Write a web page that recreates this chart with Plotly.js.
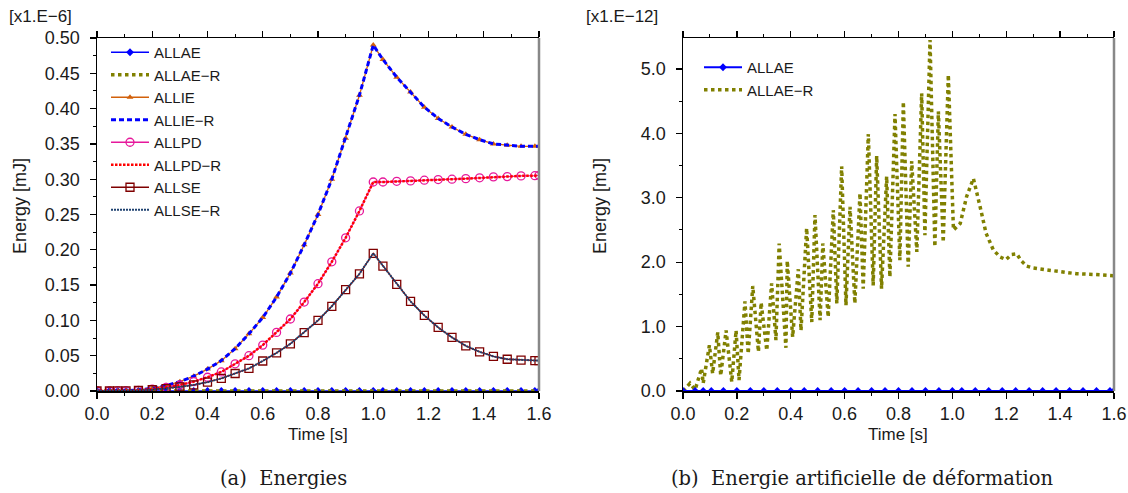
<!DOCTYPE html>
<html>
<head>
<meta charset="utf-8">
<script src="https://cdn.plot.ly/plotly-3.0.1.min.js"></script>
<style>
html,body{margin:0;padding:0;background:#fff;}
#chart{width:1128px;height:493px;}
</style>
</head>
<body>
<div id="chart"></div>
<script>
// ---- Data (a) Energies, units x1.E-6 mJ ----
const timeA = [0, 0.045, 0.075, 0.105, 0.15, 0.2, 0.25, 0.3, 0.35, 0.4, 0.45, 0.5, 0.55, 0.6, 0.65, 0.7, 0.75, 0.8, 0.85, 0.9, 0.95, 1.0, 1.035, 1.085, 1.135, 1.185, 1.235, 1.285, 1.335, 1.385, 1.435, 1.485, 1.535, 1.585, 1.6];
const allae = [0, 0, 0, 0, 0, 0, 0, 0, 0, 0, 0, 0, 0, 0, 0, 0, 0, 0, 0, 0, 0, 0, 0, 0, 0, 0, 0, 0, 0, 0, 0, 0, 0, 0, 0];
const allie = [0, 0, 0.0002, 0.0005, 0.0015, 0.004, 0.0077, 0.0132, 0.021, 0.031, 0.043, 0.060, 0.081, 0.104, 0.133, 0.167, 0.207, 0.250, 0.300, 0.358, 0.419, 0.490, 0.4695, 0.4445, 0.4234, 0.402, 0.386, 0.374, 0.3636, 0.356, 0.350, 0.348, 0.3466, 0.3466, 0.3466];
const allpd = [0, 0, 0.0001, 0.0003, 0.001, 0.0025, 0.005, 0.0085, 0.0133, 0.0195, 0.027, 0.0385, 0.050, 0.065, 0.083, 0.102, 0.126, 0.152, 0.183, 0.217, 0.255, 0.296, 0.296, 0.297, 0.2976, 0.2986, 0.2995, 0.300, 0.3008, 0.302, 0.3033, 0.3037, 0.3047, 0.305, 0.3055];
const allse = [0, 0, 0.0001, 0.0002, 0.0007, 0.0018, 0.0035, 0.0058, 0.0087, 0.0125, 0.0178, 0.0248, 0.032, 0.0425, 0.054, 0.0668, 0.0828, 0.100, 0.120, 0.1435, 0.166, 0.195, 0.177, 0.151, 0.127, 0.107, 0.090, 0.076, 0.064, 0.0555, 0.049, 0.045, 0.0437, 0.043, 0.043];

// ---- Data (b) Artificial strain energy, units x1.E-12 mJ ----
const timeB = [0, 0.026, 0.045, 0.069, 0.075, 0.098, 0.110, 0.129, 0.140, 0.160, 0.181, 0.197, 0.208, 0.230, 0.242, 0.259, 0.280, 0.290, 0.311, 0.329, 0.345, 0.357, 0.382, 0.387, 0.407, 0.428, 0.438, 0.459, 0.478, 0.490, 0.509, 0.519, 0.539, 0.558, 0.571, 0.589, 0.605, 0.620, 0.638, 0.657, 0.669, 0.688, 0.706, 0.719, 0.737, 0.756, 0.768, 0.787, 0.805, 0.818, 0.836, 0.849, 0.868, 0.886, 0.898, 0.917, 0.935, 0.948, 0.966, 0.985, 1.004, 1.029, 1.053, 1.078, 1.103, 1.125, 1.152, 1.177, 1.199, 1.220, 1.239, 1.254, 1.276, 1.300, 1.350, 1.400, 1.461, 1.523, 1.597];
const allaeR_b = [0, 0.12, 0.02, 0.35, 0.12, 0.71, 0.27, 0.91, 0.24, 0.94, 0.14, 0.94, 0.17, 1.39, 0.58, 1.63, 0.61, 1.37, 0.63, 1.67, 0.79, 2.29, 0.67, 2.02, 0.84, 1.89, 0.94, 2.53, 1.07, 2.73, 1.10, 2.29, 1.15, 2.81, 1.36, 3.49, 1.33, 2.86, 1.36, 3.07, 1.59, 3.99, 1.64, 3.65, 1.59, 3.33, 1.77, 4.30, 2.03, 4.49, 1.93, 3.57, 2.16, 4.62, 2.42, 5.45, 2.24, 4.34, 2.31, 4.91, 2.50, 2.60, 3.02, 3.30, 2.86, 2.45, 2.19, 2.08, 2.04, 2.12, 2.13, 2.03, 1.94, 1.91, 1.88, 1.85, 1.82, 1.81, 1.79];
const allae_b = allae;

const xTicksA = [0, 0.2, 0.4, 0.6, 0.8, 1.0, 1.2, 1.4, 1.6];
const yTicksA = [0, 0.05, 0.10, 0.15, 0.20, 0.25, 0.30, 0.35, 0.40, 0.45, 0.50];
const yTicksB = [0, 1, 2, 3, 4, 5];

const C = {
  allae: '#0000FF', allaeR: '#808000', allie: '#D2600A', allieR: '#0000FF',
  allpd: '#E6189B', allpdR: '#FF0000', allse: '#7F0000', allseR: '#1F4270'
};

const traces = [
  {x: timeA, y: allae, name: 'ALLAE', mode: 'lines+markers', line: {color: C.allae, width: 1.5}, marker: {symbol: 'diamond', size: 6, color: C.allae}, xaxis: 'x', yaxis: 'y', legend: 'legend'},
  {x: timeA, y: allae, name: 'ALLAE\u2212R', mode: 'lines', line: {color: C.allaeR, width: 3.5, dash: '3.5px,3.5px'}, xaxis: 'x', yaxis: 'y', legend: 'legend'},
  {x: timeA, y: allie, name: 'ALLIE', mode: 'lines+markers', line: {color: C.allie, width: 1.3}, marker: {symbol: 'triangle-up', size: 6, color: C.allie}, xaxis: 'x', yaxis: 'y', legend: 'legend'},
  {x: timeA, y: allie, name: 'ALLIE\u2212R', mode: 'lines', line: {color: C.allieR, width: 3, dash: '5px,3px'}, xaxis: 'x', yaxis: 'y', legend: 'legend'},
  {x: timeA, y: allpd, name: 'ALLPD', mode: 'lines+markers', line: {color: C.allpd, width: 1.3}, marker: {symbol: 'circle-open', size: 8, color: C.allpd, line: {width: 1.3}}, xaxis: 'x', yaxis: 'y', legend: 'legend'},
  {x: timeA, y: allpd, name: 'ALLPD\u2212R', mode: 'lines', line: {color: C.allpdR, width: 2.5, dash: '2.5px,1.5px'}, xaxis: 'x', yaxis: 'y', legend: 'legend'},
  {x: timeA, y: allse, name: 'ALLSE', mode: 'lines+markers', line: {color: C.allse, width: 1.3}, marker: {symbol: 'square-open', size: 8, color: C.allse, line: {width: 1.3}}, xaxis: 'x', yaxis: 'y', legend: 'legend'},
  {x: timeA, y: allse, name: 'ALLSE\u2212R', mode: 'lines', line: {color: C.allseR, width: 2, dash: '2px,1px'}, xaxis: 'x', yaxis: 'y', legend: 'legend'},

  {x: timeB, y: allaeR_b, name: 'ALLAE\u2212R', mode: 'lines', line: {color: C.allaeR, width: 3.5, dash: '3.5px,3.5px'}, xaxis: 'x2', yaxis: 'y2', legend: 'legend2'},
  {x: timeA, y: allae_b, name: 'ALLAE', mode: 'lines+markers', line: {color: C.allae, width: 2}, marker: {symbol: 'diamond', size: 6, color: C.allae}, xaxis: 'x2', yaxis: 'y2', legend: 'legend2'}
];

const SANS = 'Liberation Sans, Arial, sans-serif';
const tickFont = {family: SANS, size: 18, color: '#1a1a1a'};
function xAxis(domain) {
  return {
    domain: domain, range: [0, 1.6], tickvals: xTicksA, tickformat: '.1f',
    showgrid: false, zeroline: false, showline: true, linecolor: '#000', linewidth: 1.5,
    mirror: 'ticks', ticks: 'outside', ticklen: 6, tickwidth: 1.3, tickcolor: '#000',
    minor: {dtick: 0.1, ticks: 'outside', ticklen: 3, tickwidth: 1, tickcolor: '#000'},
    tickfont: tickFont, fixedrange: true
  };
}
const yDomain = [1 - 391 / 493, 1 - 38 / 493];
const legFont = {family: SANS, size: 15, color: '#1a1a1a'};
const titleFont = {family: SANS, size: 17, color: '#1a1a1a'};

const layout = {
  width: 1128, height: 493,
  margin: {l: 0, r: 0, t: 0, b: 0},
  paper_bgcolor: '#fff', plot_bgcolor: '#fff',
  showlegend: true,
  xaxis: Object.assign(xAxis([97 / 1128, 539 / 1128]), {anchor: 'y'}),
  xaxis2: Object.assign(xAxis([683 / 1128, 1114 / 1128]), {anchor: 'y2'}),
  yaxis: {
    domain: yDomain, range: [0, 0.5], tickvals: yTicksA, tickformat: '.2f', anchor: 'x',
    showgrid: false, zeroline: false, showline: true, linecolor: '#000', linewidth: 1.5,
    ticks: 'outside', ticklen: 6, tickwidth: 1.3, tickcolor: '#000', ticklabelstandoff: 6,
    minor: {dtick: 0.025, ticks: 'outside', ticklen: 3, tickwidth: 1, tickcolor: '#000'},
    tickfont: tickFont, fixedrange: true
  },
  yaxis2: {
    domain: yDomain, range: [0, 5.48], tickvals: yTicksB, tickformat: '.1f', anchor: 'x2',
    showgrid: false, zeroline: false, showline: true, linecolor: '#000', linewidth: 1.5,
    ticks: 'outside', ticklen: 6, tickwidth: 1.3, tickcolor: '#000', ticklabelstandoff: 6,
    minor: {dtick: 0.5, ticks: 'outside', ticklen: 3, tickwidth: 1, tickcolor: '#000'},
    tickfont: tickFont, fixedrange: true
  },
  legend: {
    x: 106 / 1128, y: 1 - 36 / 493, xanchor: 'left', yanchor: 'top',
    bgcolor: 'rgba(0,0,0,0)', borderwidth: 0, itemwidth: 38, tracegroupgap: 0,
    font: legFont
  },
  legend2: {
    x: 699 / 1128, y: 1 - 51 / 493, xanchor: 'left', yanchor: 'top',
    bgcolor: 'rgba(0,0,0,0)', borderwidth: 0, itemwidth: 38, tracegroupgap: 0, traceorder: 'reversed',
    font: legFont
  },
  shapes: [
    {type: 'line', xref: 'x domain', yref: 'y domain', x0: 1, x1: 1, y0: 0, y1: 1, line: {color: '#888', width: 2.5}},
    {type: 'line', xref: 'x2 domain', yref: 'y2 domain', x0: 1, x1: 1, y0: 0, y1: 1, line: {color: '#888', width: 2.5}}
  ],
  annotations: [
    {text: '[x1.E\u22126]', xref: 'paper', yref: 'paper', x: 7 / 1128, y: 1 - 16 / 493, xanchor: 'left', yanchor: 'middle', showarrow: false, font: {family: SANS, size: 17, color: '#1a1a1a'}},
    {text: '[x1.E\u221212]', xref: 'paper', yref: 'paper', x: 584 / 1128, y: 1 - 16 / 493, xanchor: 'left', yanchor: 'middle', showarrow: false, font: {family: SANS, size: 17, color: '#1a1a1a'}},
    {text: 'Energy [mJ]', xref: 'paper', yref: 'paper', x: 20 / 1128, y: 1 - 206 / 493, textangle: -90, xanchor: 'center', yanchor: 'middle', showarrow: false, font: {family: SANS, size: 18, color: '#1a1a1a'}},
    {text: 'Energy [mJ]', xref: 'paper', yref: 'paper', x: 600 / 1128, y: 1 - 206 / 493, textangle: -90, xanchor: 'center', yanchor: 'middle', showarrow: false, font: {family: SANS, size: 18, color: '#1a1a1a'}},
    {text: 'Time [s]', xref: 'paper', yref: 'paper', x: 318 / 1128, y: 1 - 434 / 493, xanchor: 'center', yanchor: 'middle', showarrow: false, font: titleFont},
    {text: 'Time [s]', xref: 'paper', yref: 'paper', x: 898 / 1128, y: 1 - 434 / 493, xanchor: 'center', yanchor: 'middle', showarrow: false, font: titleFont},
    {text: '(a)  Energies', xref: 'paper', yref: 'paper', x: 283 / 1128, y: 1 - 478 / 493, xanchor: 'center', yanchor: 'middle', showarrow: false, font: {family: 'DejaVu Serif, serif', size: 19.5, color: '#1a1a1a'}},
    {text: '(b)  Energie artificielle de déformation', xref: 'paper', yref: 'paper', x: 862 / 1128, y: 1 - 478 / 493, xanchor: 'center', yanchor: 'middle', showarrow: false, font: {family: 'DejaVu Serif, serif', size: 19.5, color: '#1a1a1a'}}
  ]
};

Plotly.newPlot('chart', traces, layout, {displayModeBar: false, staticPlot: true});
</script>
</body>
</html>
